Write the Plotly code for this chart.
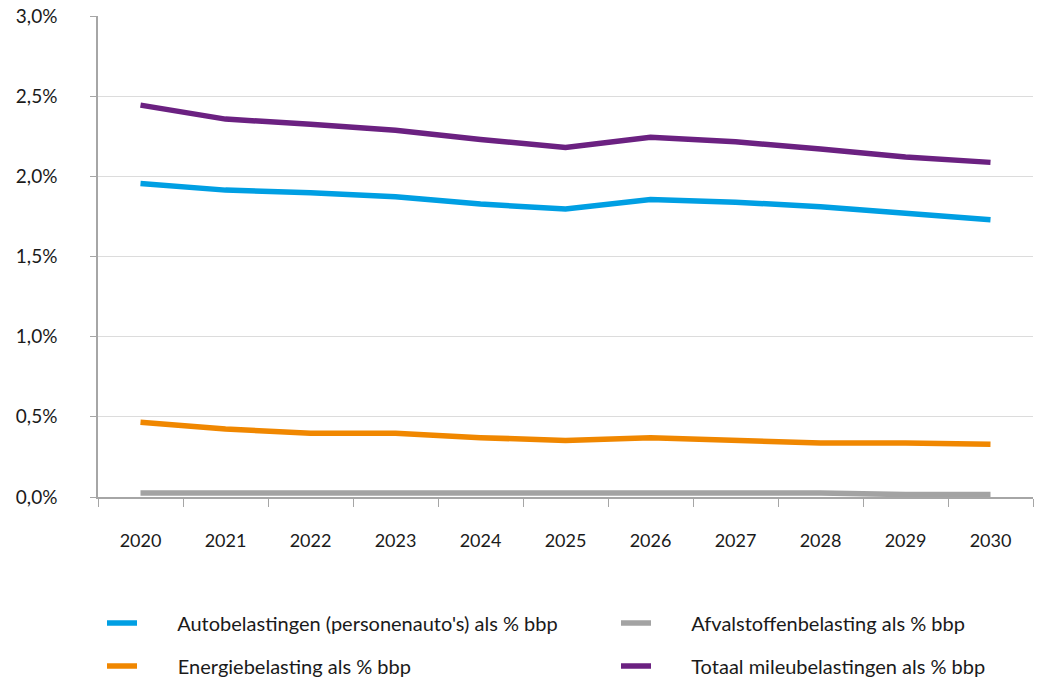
import plotly.graph_objects as go

# Milieubelastingen als % van het bbp, 2020-2030
years = ["2020", "2021", "2022", "2023", "2024", "2025", "2026", "2027", "2028", "2029", "2030"]
auto = [1.956, 1.914, 1.897, 1.872, 1.827, 1.796, 1.856, 1.839, 1.810, 1.770, 1.729]
energie = [0.466, 0.424, 0.397, 0.397, 0.370, 0.353, 0.370, 0.353, 0.337, 0.337, 0.329]
afval = [0.025, 0.025, 0.025, 0.025, 0.025, 0.025, 0.025, 0.025, 0.025, 0.015, 0.015]
totaal = [2.444, 2.357, 2.325, 2.288, 2.230, 2.180, 2.243, 2.215, 2.170, 2.120, 2.087]

y_ticks = [0, 0.5, 1.0, 1.5, 2.0, 2.5, 3.0]
y_tick_text = ["0,0%", "0,5%", "1,0%", "1,5%", "2,0%", "2,5%", "3,0%"]

series = [
    ("Autobelastingen (personenauto's) als % bbp", auto, "#009fe3", "legend"),
    ("Energiebelasting als % bbp", energie, "#f08700", "legend"),
    ("Afvalstoffenbelasting als % bbp", afval, "#a3a3a3", "legend2"),
    ("Totaal mileubelastingen als % bbp", totaal, "#6b2181", "legend2"),
]

FONT = "Lato"
PAD = "\u00a0" * 7  # extra room between legend swatch and label
fig = go.Figure()
for i, (name, vals, color, leg) in enumerate(series):
    fig.add_trace(go.Scatter(
        x=years, y=vals, name=PAD + name, mode="lines",
        line=dict(color=color, width=5.5),
        legend=leg, legendgroup=f"g{i}",
        hoverinfo="skip",
    ))

legend_common = dict(
    orientation="v", xanchor="left", yanchor="top",
    xref="container", yref="container",
    font=dict(family=FONT, size=20, color="#1a1a1a"),
    tracegroupgap=14, bgcolor="rgba(0,0,0,0)",
)

fig.update_layout(
    width=1043, height=682,
    margin=dict(l=98, r=10, t=16, b=185, autoexpand=False),
    plot_bgcolor="white", paper_bgcolor="white",
    font=dict(family=FONT, size=18, color="#1a1a1a"),
    showlegend=True,
    legend=dict(x=0.0978, y=0.115, **legend_common),
    legend2=dict(x=0.5906, y=0.115, **legend_common),
    xaxis=dict(
        type="category", range=[-0.5, 10.5],
        tickson="boundaries", ticks="outside", ticklen=8, tickcolor="#a6a6a6",
        showline=True, linecolor="#a6a6a6", linewidth=1.5,
        showgrid=False, ticklabelstandoff=27,
        tickfont=dict(family=FONT, size=18, color="#1a1a1a"),
    ),
    yaxis=dict(
        range=[0, 3.0], tickvals=y_ticks, ticktext=y_tick_text,
        ticks="outside", ticklen=6, tickcolor="#a6a6a6",
        showline=True, linecolor="#a6a6a6", linewidth=1.5,
        showgrid=True, gridcolor="#dcdcdc", gridwidth=1,
        zeroline=False, ticklabelstandoff=29,
        tickfont=dict(family=FONT, size=19, color="#1a1a1a"),
    ),
)

fig.write_html("out.html")
